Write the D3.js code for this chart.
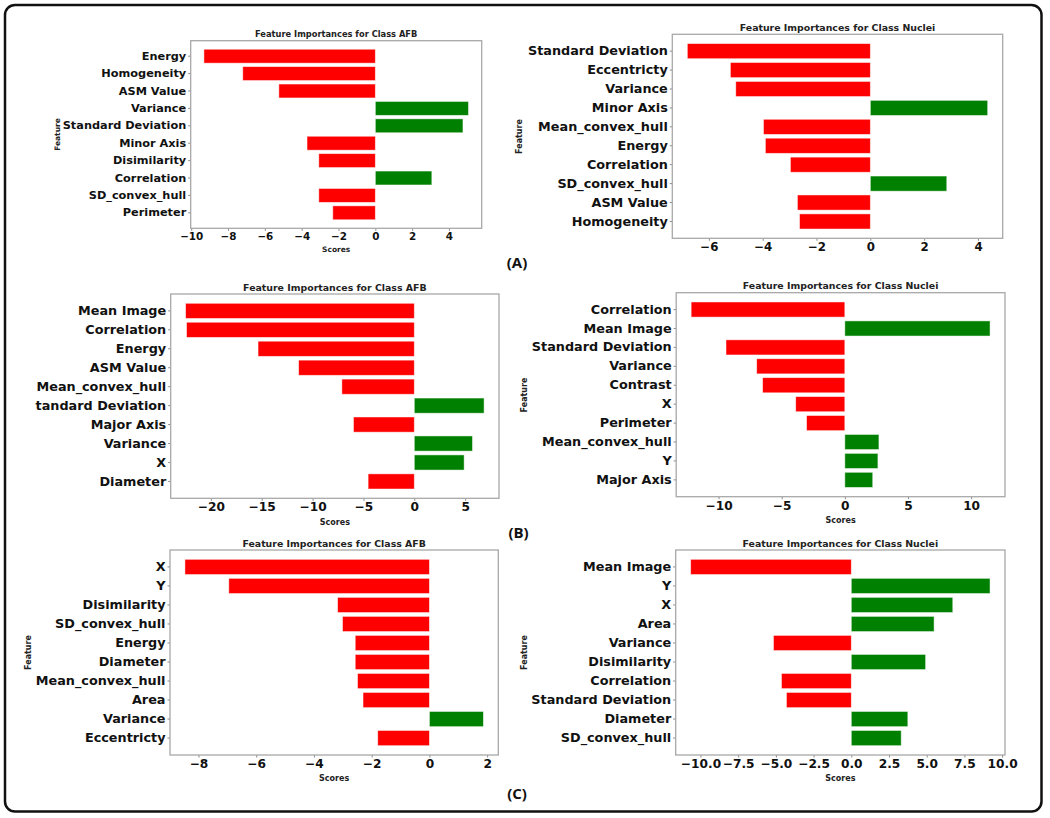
<!DOCTYPE html>
<html>
<head>
<meta charset="utf-8">
<script src="https://cdn.jsdelivr.net/npm/d3@7"></script>
<style>
  html, body { margin: 0; padding: 0; background: #ffffff; }
  svg { display: block; }
</style>
</head>
<body>
<script>
// ---------------- DATA ----------------
const featA_AFB = ["Energy","Homogeneity","ASM Value","Variance","Standard Deviation","Minor Axis","Disimilarity","Correlation","SD_convex_hull","Perimeter"];
const scoreA_AFB = [-9.31,-7.2,-5.24,5.06,4.76,-3.71,-3.07,3.07,-3.07,-2.31];
const ticksA_AFB = [-10,-8,-6,-4,-2,0,2,4];

const featA_Nuc = ["Standard Deviation","Eccentricty","Variance","Minor Axis","Mean_convex_hull","Energy","Correlation","SD_convex_hull","ASM Value","Homogeneity"];
const scoreA_Nuc = [-6.8,-5.2,-5.0,4.36,-3.97,-3.9,-2.97,2.84,-2.71,-2.63];
const ticksA_Nuc = [-6,-4,-2,0,2,4];

const featB_AFB = ["Mean Image","Correlation","Energy","ASM Value","Mean_convex_hull","Standard Deviation","Major Axis","Variance","X","Diameter"];
const scoreB_AFB = [-22.48,-22.39,-15.36,-11.37,-7.12,6.86,-5.98,5.72,4.9,-4.54];
const ticksB_AFB = [-20,-15,-10,-5,0,5];

const featB_Nuc = ["Correlation","Mean Image","Standard Deviation","Variance","Contrast","X","Perimeter","Mean_convex_hull","Y","Major Axis"];
const scoreB_Nuc = [-12.17,11.5,-9.41,-6.98,-6.51,-3.89,-3.03,2.7,2.62,2.21];
const ticksB_Nuc = [-10,-5,0,5,10];

const featC_AFB = ["X","Y","Disimilarity","SD_convex_hull","Energy","Diameter","Mean_convex_hull","Area","Variance","Eccentricty"];
const scoreC_AFB = [-8.47,-6.95,-3.18,-3.01,-2.57,-2.57,-2.49,-2.3,1.87,-1.79];
const ticksC_AFB = [-8,-6,-4,-2,0,2];

const featC_Nuc = ["Mean Image","Y","X","Area","Variance","Disimilarity","Correlation","Standard Deviation","Diameter","SD_convex_hull"];
const scoreC_Nuc = [-10.65,9.2,6.73,5.49,-5.16,4.93,-4.63,-4.3,3.75,3.31];
const ticksC_Nuc = [-10,-7.5,-5,-2.5,0,2.5,5,7.5,10];

const titleAFB = "Feature Importances for Class AFB";
const titleNuc = "Feature Importances for Class Nuclei";
const groupLabels = ["(A)","(B)","(C)"];
const xLabel = "Scores";
const yLabel = "Feature";

// ---------------- LAYOUT (positions / sizes / styles) ----------------
const panels = [
  {feat: featA_AFB, score: scoreA_AFB, ticks: ticksA_AFB, fmt: ".0f", title: titleAFB,
   box: [190.7, 40.7, 481.7, 228.3], titleY: 34, ylabX: 57, ylabY: 134.5, xlabY: 249, showX: true,
   fLab: 11.3, fTick: 10.4, fTitle: 8.3, fAxis: 7.5, clipX: 0},
  {feat: featA_Nuc, score: scoreA_Nuc, ticks: ticksA_Nuc, fmt: ".0f", title: titleNuc,
   box: [672.3, 34.3, 1002.7, 238.3], titleY: 27.7, ylabX: 519.5, ylabY: 136.5, xlabY: 0, showX: false,
   fLab: 12.8, fTick: 11.8, fTitle: 9.4, fAxis: 8, clipX: 0},
  {feat: featB_AFB, score: scoreB_AFB, ticks: ticksB_AFB, fmt: ".0f", title: titleAFB,
   box: [170.7, 294, 499, 498.3], titleY: 287, ylabX: 21, ylabY: 377, xlabY: 522, showX: true,
   fLab: 12.8, fTick: 12.2, fTitle: 9.4, fAxis: 8, clipX: 35},
  {feat: featB_Nuc, score: scoreB_Nuc, ticks: ticksB_Nuc, fmt: ".0f", title: titleNuc,
   box: [676.2, 292.7, 1005, 496.7], titleY: 285, ylabX: 524, ylabY: 395, xlabY: 520, showX: true,
   fLab: 12.8, fTick: 12.2, fTitle: 9.4, fAxis: 8, clipX: 0},
  {feat: featC_AFB, score: scoreC_AFB, ticks: ticksC_AFB, fmt: ".0f", title: titleAFB,
   box: [170, 550, 498.3, 755], titleY: 543.3, ylabX: 28, ylabY: 652.5, xlabY: 778, showX: true,
   fLab: 12.8, fTick: 12.2, fTitle: 9.4, fAxis: 8, clipX: 0},
  {feat: featC_Nuc, score: scoreC_Nuc, ticks: ticksC_Nuc, fmt: ".1f", title: titleNuc,
   box: [675.7, 550, 1005, 755], titleY: 543.3, ylabX: 524, ylabY: 652.5, xlabY: 778, showX: true,
   fLab: 12.8, fTick: 12.2, fTitle: 9.4, fAxis: 8, clipX: 0}
];
const groupPos = [[517, 262], [518.5, 532], [517, 793]];

const RED = "#ff0000", GREEN = "#008000";
const FONT = "'DejaVu Sans', sans-serif";

// ---------------- DRAW ----------------
const svg = d3.select("body").append("svg").attr("width", 1050).attr("height", 818);
svg.append("rect").attr("width", 1050).attr("height", 818).attr("fill", "#fff");

const defs = svg.append("defs");

panels.forEach((p, i) => {
  const [x0, y0, x1, y1] = p.box;
  const lo = Math.min(0, d3.min(p.score)), hi = Math.max(0, d3.max(p.score));
  const m = (hi - lo) * 0.05;
  const x = d3.scaleLinear().domain([lo - m, hi + m]).range([x0, x1]);
  const y = d3.scaleBand().domain(p.feat).range([y0, y1]).paddingInner(0.2).paddingOuter(0.49);

  let g = svg.append("g");
  if (p.clipX) {
    defs.append("clipPath").attr("id", "clip" + i)
      .append("rect").attr("x", p.clipX).attr("y", 0).attr("width", 1050).attr("height", 818);
    g.attr("clip-path", `url(#clip${i})`);
  }

  // bars
  g.append("g").selectAll("rect").data(p.feat.map((f, k) => ({f, v: p.score[k]}))).join("rect")
    .attr("x", d => x(Math.min(0, d.v)))
    .attr("y", d => y(d.f))
    .attr("width", d => Math.abs(x(d.v) - x(0)))
    .attr("height", y.bandwidth())
    .attr("fill", d => d.v < 0 ? RED : GREEN)
    .attr("stroke", "#ffffff").attr("stroke-opacity", 0.6).attr("stroke-width", 0.8);

  // y axis
  const ya = g.append("g").attr("transform", `translate(${x0},0)`)
    .call(d3.axisLeft(y).tickSize(2.5).tickPadding(2));
  ya.select(".domain").remove();
  ya.selectAll(".tick line").attr("stroke", "#888");
  ya.selectAll(".tick text").attr("font-family", FONT).attr("font-weight", "bold")
    .attr("font-size", p.fLab).attr("fill", "#111");

  // x axis
  const xa = g.append("g").attr("transform", `translate(0,${y1})`)
    .call(d3.axisBottom(x).tickValues(p.ticks).tickFormat(d3.format(p.fmt)).tickSize(2.5).tickPadding(2));
  xa.select(".domain").remove();
  xa.selectAll(".tick line").attr("stroke", "#888");
  xa.selectAll(".tick text").attr("font-family", FONT).attr("font-weight", "bold")
    .attr("font-size", p.fTick).attr("fill", "#111");

  // box
  g.append("rect").attr("x", x0).attr("y", y0).attr("width", x1 - x0).attr("height", y1 - y0)
    .attr("fill", "none").attr("stroke", "#a8a8a8").attr("stroke-width", 1.3);

  // title
  g.append("text").attr("x", (x0 + x1) / 2).attr("y", p.titleY)
    .attr("text-anchor", "middle").attr("dominant-baseline", "central")
    .attr("font-family", FONT).attr("font-weight", "bold").attr("font-size", p.fTitle)
    .attr("fill", "#222").text(p.title);

  // x label
  if (p.showX) {
    g.append("text").attr("x", (x0 + x1) / 2).attr("y", p.xlabY)
      .attr("text-anchor", "middle").attr("dominant-baseline", "central")
      .attr("font-family", FONT).attr("font-weight", "bold").attr("font-size", p.fAxis)
      .attr("fill", "#222").text(xLabel);
  }
  // y label
  g.append("text").attr("transform", `translate(${p.ylabX},${p.ylabY}) rotate(-90)`)
    .attr("text-anchor", "middle").attr("dominant-baseline", "central")
    .attr("font-family", FONT).attr("font-weight", "bold").attr("font-size", p.fAxis)
    .attr("fill", "#222").text(yLabel);
});

// group labels
groupLabels.forEach((t, i) => {
  svg.append("text").attr("x", groupPos[i][0]).attr("y", groupPos[i][1])
    .attr("text-anchor", "middle").attr("dominant-baseline", "central")
    .attr("font-family", "'Open Sans', sans-serif").attr("font-weight", "bold")
    .attr("font-size", 15).attr("fill", "#111").text(t);
});

// outer frame
svg.append("rect").attr("x", 5).attr("y", 5).attr("width", 1036.5).attr("height", 806.5)
  .attr("rx", 10).attr("ry", 10).attr("fill", "none")
  .attr("stroke", "#111").attr("stroke-width", 2.5);
</script>
</body>
</html>
